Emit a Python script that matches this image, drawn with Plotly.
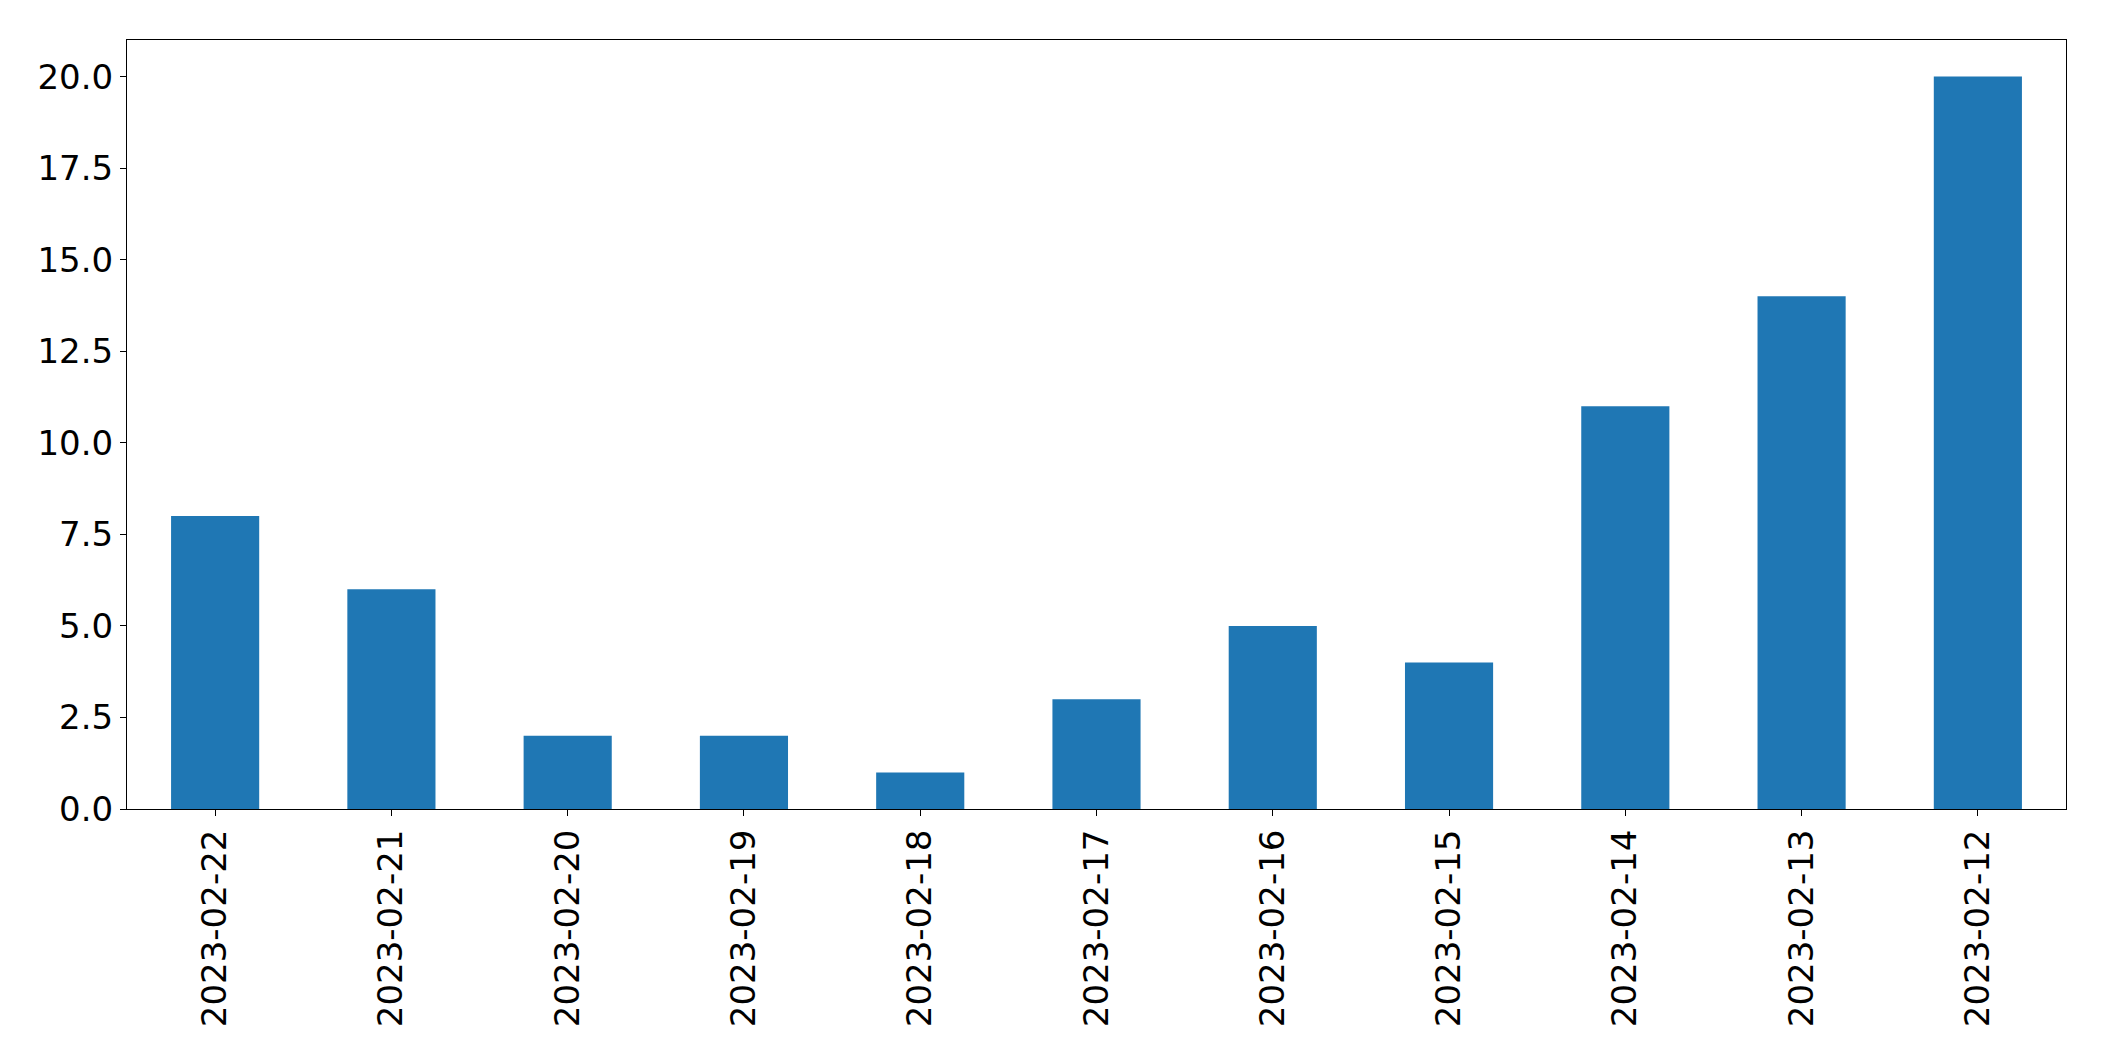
import plotly.graph_objects as go

dates = ["2023-02-22", "2023-02-21", "2023-02-20", "2023-02-19", "2023-02-18",
         "2023-02-17", "2023-02-16", "2023-02-15", "2023-02-14", "2023-02-13", "2023-02-12"]
counts = [8, 6, 2, 2, 1, 3, 5, 4, 11, 14, 20]
y_ticks = [0, 2.5, 5, 7.5, 10, 12.5, 15, 17.5, 20]
y_tick_labels = ["0.0", "2.5", "5.0", "7.5", "10.0", "12.5", "15.0", "17.5", "20.0"]

fig = go.Figure(go.Bar(x=dates, y=counts, width=0.5, marker_color="#1f77b4",
                       marker_line_width=0))

fig.update_layout(
    width=2104, height=1061,
    margin=dict(l=119, r=46, t=32, b=260, pad=0),
    plot_bgcolor="white", paper_bgcolor="white",
    font=dict(family="DejaVu Sans", size=34, color="black"),
    showlegend=False,
)
fig.update_xaxes(type="category", range=[-0.5, 10.5], tickangle=-90,
                 showline=True, linecolor="black", linewidth=1, mirror=True,
                 ticks="outside", ticklen=6, tickcolor="black", showgrid=False,
                 tickfont=dict(size=34))
fig.update_yaxes(range=[0, 21], tickvals=y_ticks, ticktext=y_tick_labels,
                 showline=True, linecolor="black", linewidth=1, mirror=True,
                 ticks="outside", ticklen=6, tickcolor="black", showgrid=False,
                 zeroline=False, tickfont=dict(size=34))

fig.write_html("out.html")
